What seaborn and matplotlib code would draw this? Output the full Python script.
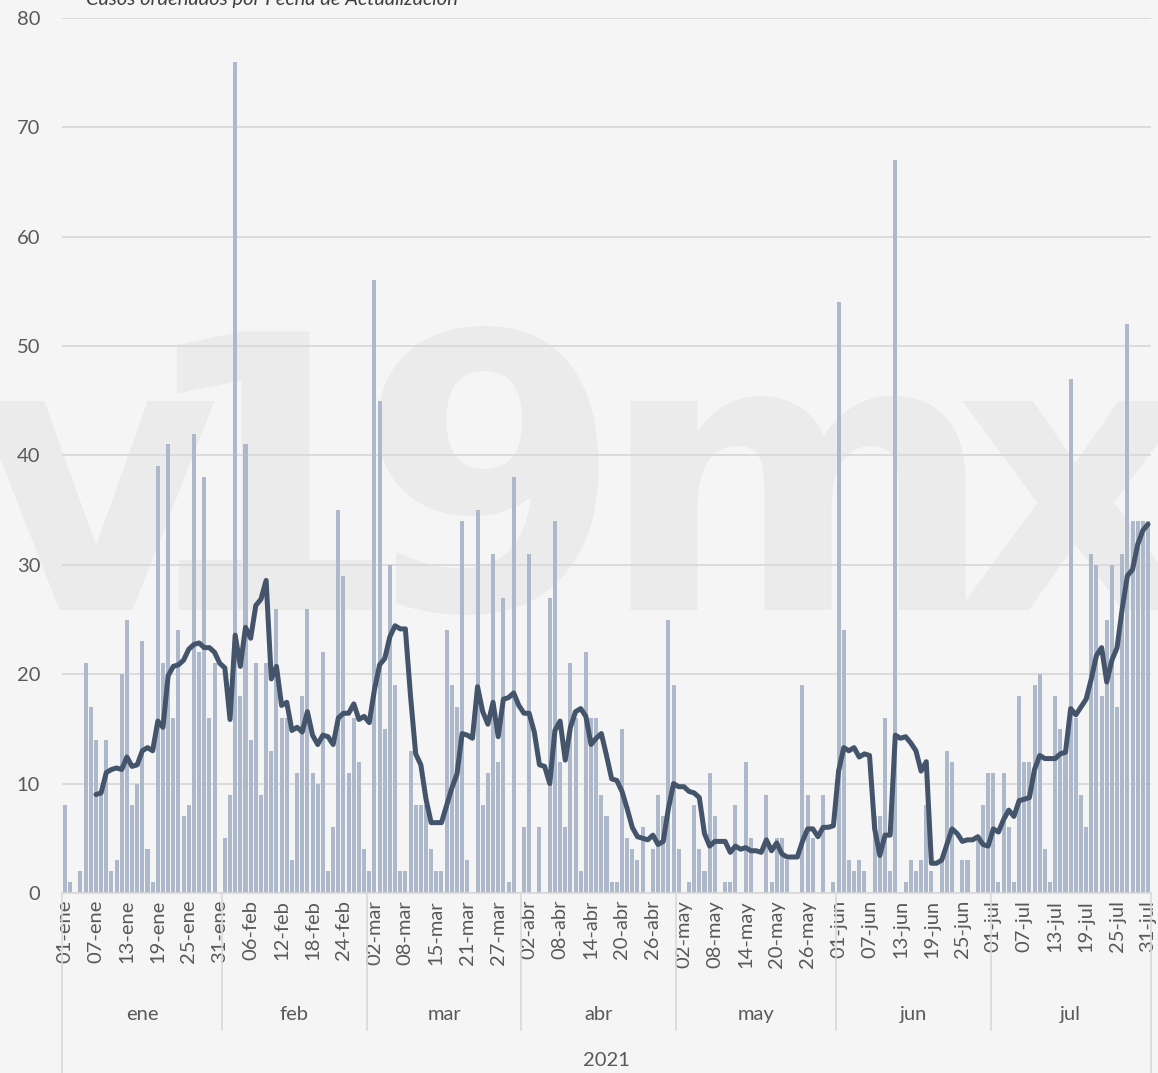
import pandas as pd
import numpy as np
import matplotlib
matplotlib.use('Agg')
import matplotlib.pyplot as plt
import matplotlib.transforms as mtransforms
import seaborn as sns

# casos diarios por mes (2021)
meses = ['ene', 'feb', 'mar', 'abr', 'may', 'jun', 'jul']
ene = [8, 1, 0, 2, 21, 17, 14, 9, 14, 2, 3, 20, 25, 8, 10, 23, 4, 1, 39, 21,
       41, 16, 24, 7, 8, 42, 22, 38, 16, 21, 0]
feb = [5, 9, 76, 18, 41, 14, 21, 9, 21, 13, 26, 16, 16, 3, 11, 18, 26, 11, 10, 22,
       2, 6, 35, 29, 11, 16, 12, 4]
mar = [2, 56, 45, 15, 30, 19, 2, 2, 13, 8, 8, 8, 4, 2, 2, 24, 19, 17, 34, 3,
       0, 35, 8, 11, 31, 12, 27, 1, 38, 0]
abr = [6, 31, 0, 6, 0, 27, 34, 12, 6, 21, 16, 2, 22, 16, 16, 9, 7, 1, 1, 15,
       5, 4, 3, 6, 0, 4, 9, 7, 25, 19]
may = [4, 0, 1, 8, 4, 2, 11, 7, 0, 1, 1, 8, 0, 12, 5, 0, 0, 9, 1, 5,
       5, 3, 0, 0, 19, 9, 5, 0, 9, 0, 1]
jun = [54, 24, 3, 2, 3, 2, 0, 7, 7, 16, 2, 67, 0, 1, 3, 2, 3, 8, 2, 0,
       3, 13, 12, 0, 3, 3, 0, 5, 8, 11]
jul = [11, 1, 11, 6, 1, 18, 12, 12, 19, 20, 4, 1, 18, 15, 13, 47, 16, 9, 6, 31,
       30, 18, 25, 30, 17, 31, 52, 34, 34, 34, 34]
fecha_faltante = '2021-03-10'  # the series skips one day in March

fechas = pd.date_range('2021-01-01', '2021-07-31', freq='D')
fechas = fechas[fechas != pd.Timestamp(fecha_faltante)]
casos = ene + feb + mar + abr + may + jun + jul

df = pd.DataFrame({'fecha': fechas, 'casos': casos})
df['pos'] = np.arange(len(df))
df['media7'] = df['casos'].rolling(7).mean()
df['mes'] = df['fecha'].dt.month
df['etiqueta'] = [f"{d.day:02d}-{meses[d.month - 1]}" for d in df['fecha']]

bg = '#f5f5f5'
gris = '#595959'
linea_grid = '#d9d9d9'

sns.set_theme(style='white')
plt.rcParams['font.family'] = ['Lato', 'DejaVu Sans']

fig = plt.figure(figsize=(11.58, 10.73), dpi=100, facecolor=bg)
ax = fig.add_axes([0.0539, 0.1678, 0.9397, 0.8155])
ax.set_facecolor('none')

# marca de agua
for ch, xc in zip('v19mx', [95, 265, 490, 797, 1075]):
    fig.text(xc / 1158, 1 - 610 / 1073, ch, ha='center', va='baseline',
             fontsize=274, fontweight='bold', family='DejaVu Sans',
             color='#ebebeb', zorder=-1)

sns.barplot(data=df, x='pos', y='casos', color='#adb9ca', saturation=1,
            width=0.78, errorbar=None, ax=ax, zorder=2,
            edgecolor='none', linewidth=0)
sns.lineplot(data=df, x='pos', y='media7', color='#44546a', linewidth=3.6,
             ax=ax, zorder=3)

ax.set_xlim(-0.5, len(df) - 0.5)
ax.set_ylim(0, 80)
ax.set_yticks(range(0, 81, 10))
ax.yaxis.grid(True, color=linea_grid, linewidth=1.3)
ax.set_axisbelow(True)
ax.tick_params(axis='y', length=0, pad=16, labelsize=14.5, labelcolor=gris)

ticks = df['pos'][::6]
ax.set_xticks(ticks)
ax.set_xticklabels(df['etiqueta'][::6], rotation=90)
ax.tick_params(axis='x', length=0, pad=5, labelsize=14.5, labelcolor=gris)
ax.set_xlabel('')
ax.set_ylabel('')

for s in ['top', 'right', 'left']:
    ax.spines[s].set_visible(False)
ax.spines['bottom'].set_color(linea_grid)
ax.spines['bottom'].set_linewidth(1.2)

# eje de categorías en varios niveles
trans = mtransforms.blended_transform_factory(ax.transData, ax.transAxes)
limites = df.groupby('mes')['pos'].agg(['min', 'max'])
for i, (m, row) in enumerate(limites.iterrows()):
    x0 = row['min'] - 0.5
    y_fin = -0.2057 if i == 0 else -0.1566
    ax.plot([x0, x0], [0, y_fin], transform=trans, color=linea_grid,
            linewidth=1.2, clip_on=False)
    ax.text((row['min'] + row['max']) / 2, -0.139, meses[m - 1],
            transform=trans, ha='center', va='center', fontsize=14.5, color=gris)
x_fin = len(df) - 0.5
ax.plot([x_fin, x_fin], [0, -0.2057], transform=trans, color=linea_grid,
        linewidth=1.2, clip_on=False)
ax.text((len(df) - 1) / 2, -0.191, '2021', transform=trans, ha='center',
        va='center', fontsize=14.5, color=gris)

fig.text(86 / 1158, 1 - 5 / 1073, 'Casos ordenados por Fecha de Actualización',
         ha='left', va='baseline', fontsize=14.5, style='italic', color='#404040')

fig.savefig('out.png', dpi=100, facecolor=bg)
